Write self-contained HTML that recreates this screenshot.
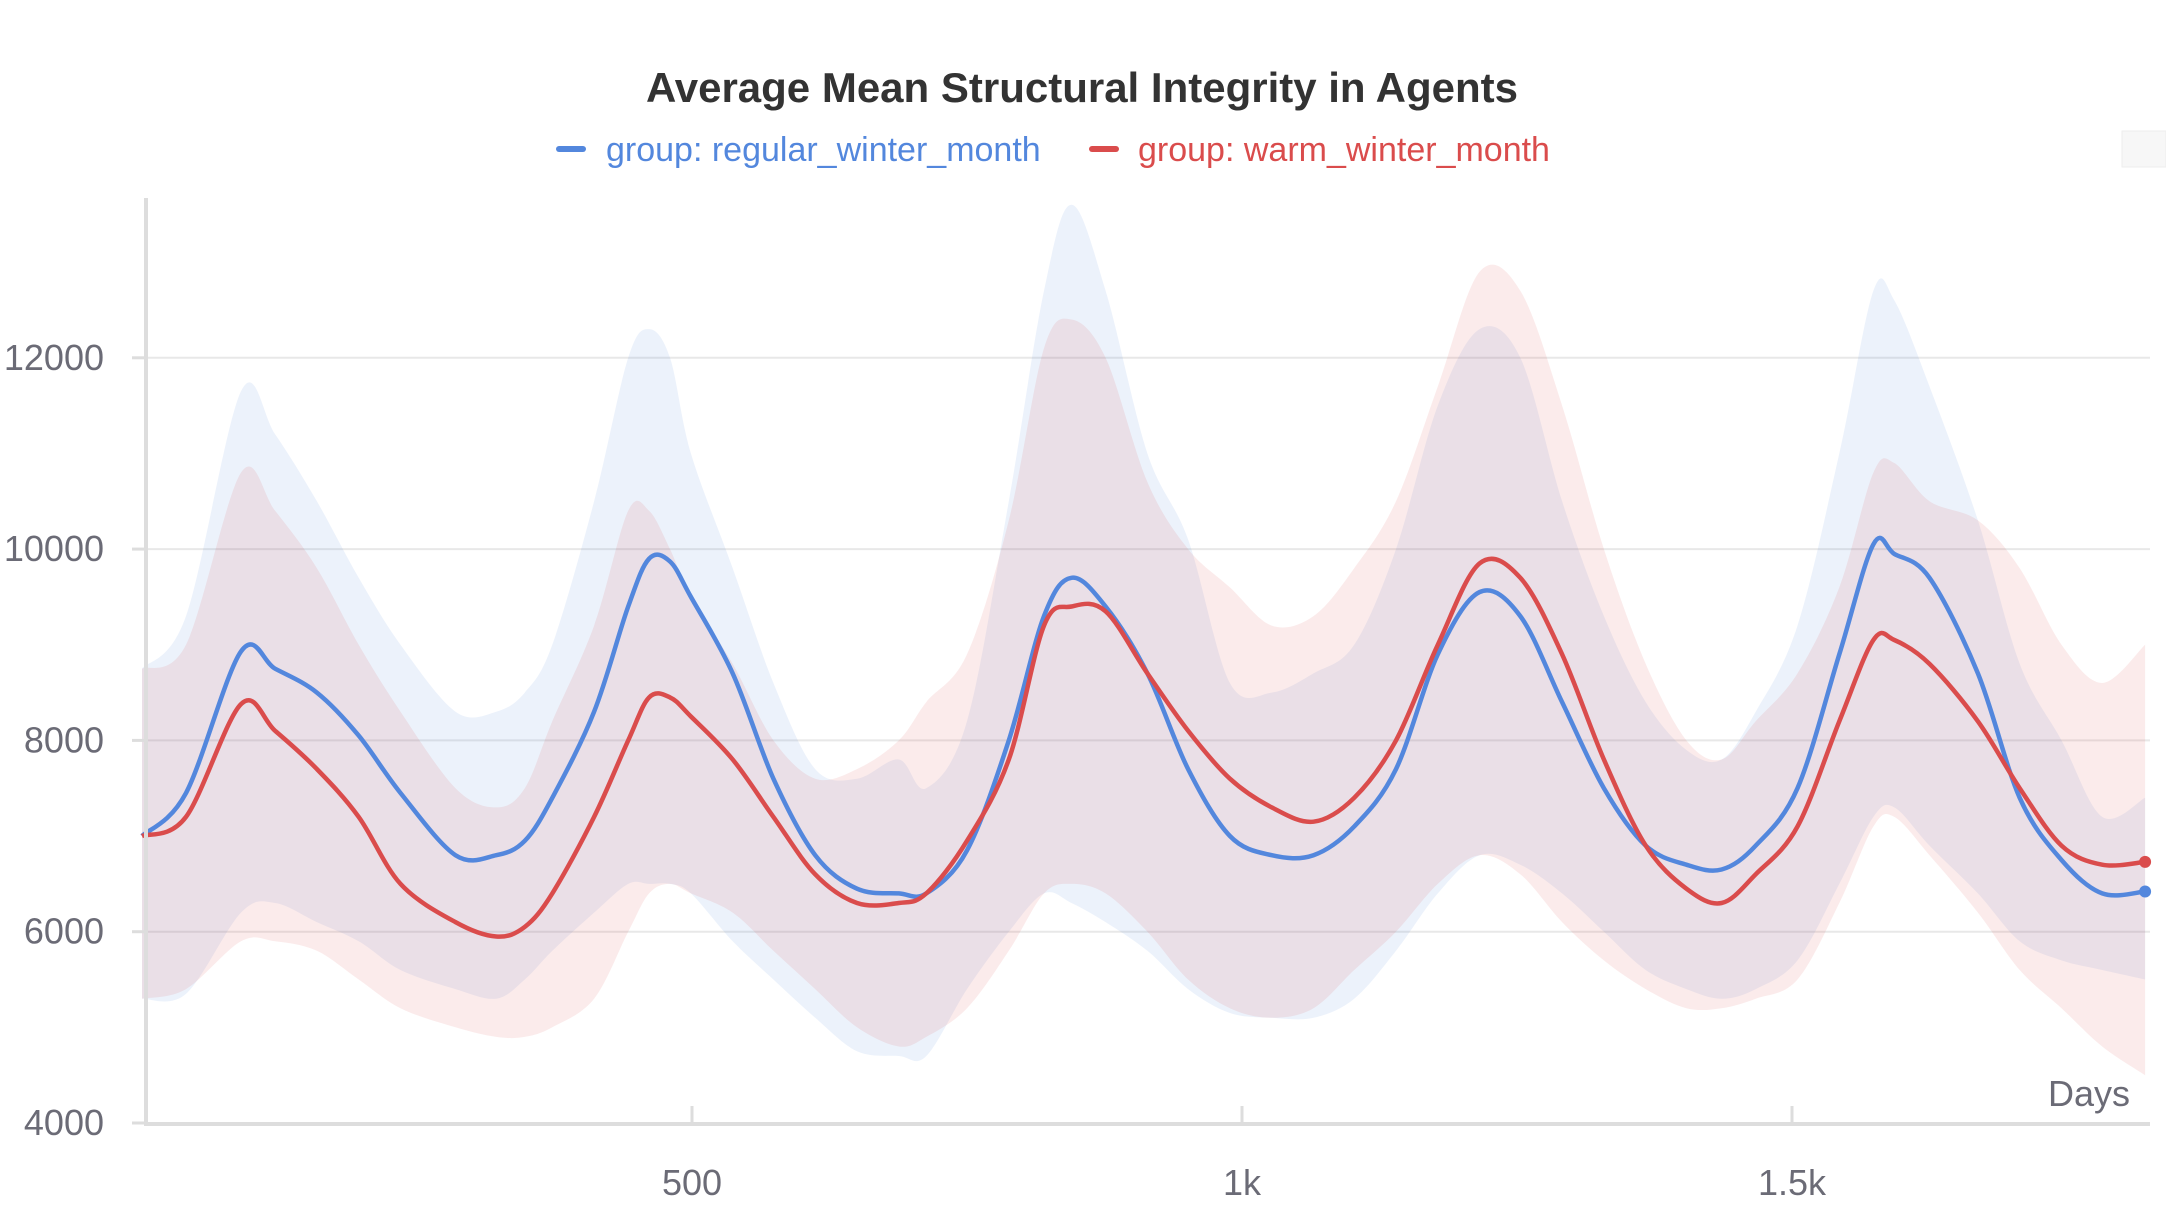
<!DOCTYPE html>
<html><head><meta charset="utf-8"><style>
html,body{margin:0;padding:0;background:#fff;}
svg{display:block;font-family:"Liberation Sans",sans-serif;}
</style></head><body>
<svg id="chart" width="2166" height="1206" viewBox="0 0 2166 1206" xmlns="http://www.w3.org/2000/svg">
<text x="1082" y="102" text-anchor="middle" font-size="42" font-weight="bold" fill="#333">Average Mean Structural Integrity in Agents</text>
<g>
<rect x="556" y="146" width="30" height="6" rx="3" fill="#5387dd"/>
<text x="606" y="161" font-size="34" fill="#5387dd">group: regular_winter_month</text>
<rect x="1089" y="146" width="30" height="6" rx="3" fill="#da4c4c"/>
<text x="1138" y="161" font-size="34" fill="#da4c4c">group: warm_winter_month</text>
</g>
<rect x="2122" y="131" width="44" height="36" fill="#f7f7f7" stroke="#eee"/>
<g id="grid"></g>
<g id="bands"></g>
<g id="lines"></g>
<g id="axes"></g>
<text x="2130" y="1106" text-anchor="end" font-size="36" fill="#6b6b76">Days</text>
</svg>
<script>
const days=[0,40,90,121,159,197,235,285,322,348,373,411,442,461,480,499,537,574,612,650,688,713,750,788,820,845,876,914,951,989,1027,1065,1102,1140,1178,1216,1253,1291,1329,1367,1404,1436,1467,1505,1543,1574,1593,1625,1669,1707,1745,1782,1821];
const blueMean=[7000,7450,8930,8750,8500,8050,7450,6800,6800,6950,7400,8300,9400,9900,9870,9500,8700,7600,6800,6450,6400,6400,6850,8000,9300,9700,9400,8700,7700,7000,6800,6800,7100,7700,8900,9550,9300,8400,7500,6900,6700,6650,6900,7500,8900,10050,9950,9700,8700,7400,6750,6400,6420];
const redMean=[7000,7200,8380,8100,7700,7200,6500,6100,5950,6050,6400,7200,8000,8450,8450,8250,7800,7200,6600,6300,6300,6400,6950,7800,9200,9400,9350,8700,8100,7600,7300,7150,7400,8000,9000,9850,9700,8900,7800,6900,6450,6300,6600,7100,8200,9050,9050,8800,8200,7500,6900,6700,6730];
const blueUpper=[8750,9300,11650,11200,10500,9700,9000,8300,8300,8500,9000,10500,12000,12300,12000,11000,9800,8600,7700,7600,7800,7500,8200,10500,12700,13600,12700,11000,10100,8600,8500,8700,9000,10000,11500,12300,12000,10500,9300,8400,7900,7800,8300,9200,11000,12700,12600,11700,10300,8800,8000,7200,7400];
const blueLower=[5300,5350,6200,6300,6100,5900,5600,5400,5300,5500,5800,6200,6500,6500,6500,6400,5900,5500,5100,4750,4700,4700,5400,6000,6400,6300,6100,5800,5400,5150,5100,5100,5300,5800,6400,6800,6700,6400,6000,5600,5400,5300,5400,5700,6500,7200,7300,6900,6400,5900,5700,5600,5500];
const redUpper=[8750,9000,10800,10400,9800,9000,8300,7500,7300,7500,8200,9200,10400,10400,10000,9500,8800,8000,7600,7700,8000,8400,8900,10300,12100,12400,12000,10700,10000,9600,9200,9300,9800,10500,11700,12900,12700,11500,10000,8800,8000,7800,8200,8700,9600,10800,10900,10500,10300,9800,9000,8600,9000];
const redLower=[5300,5400,5900,5900,5800,5500,5200,5000,4900,4900,5000,5300,6000,6400,6500,6400,6200,5800,5400,5000,4800,4900,5200,5800,6400,6500,6400,6000,5500,5200,5100,5200,5600,6000,6500,6800,6600,6100,5700,5400,5200,5200,5300,5500,6300,7100,7200,6800,6200,5600,5200,4800,4500];
const yTicks=[4000,6000,8000,10000,12000];
const xTicks=[500,1000,1500];
const xTickLabels=["500","1k","1.5k"];

const NS="http://www.w3.org/2000/svg";
const X0=142,XS=1.1,Y4=1123,YS=191.3/2000;
const sx=d=>X0+d*XS, sy=v=>Y4-(v-4000)*YS;
function mk(tag,attrs,parent){const e=document.createElementNS(NS,tag);for(const k in attrs)e.setAttribute(k,attrs[k]);parent.appendChild(e);return e;}
function smooth(pts,start){
 let d=(start?'M':'L')+pts[0][0].toFixed(1)+','+pts[0][1].toFixed(1);
 for(let i=0;i<pts.length-1;i++){
  const p0=pts[Math.max(0,i-1)],p1=pts[i],p2=pts[i+1],p3=pts[Math.min(pts.length-1,i+2)];
  const c1x=p1[0]+(p2[0]-p0[0])/6,c1y=p1[1]+(p2[1]-p0[1])/6;
  const c2x=p2[0]-(p3[0]-p1[0])/6,c2y=p2[1]-(p3[1]-p1[1])/6;
  d+='C'+c1x.toFixed(1)+','+c1y.toFixed(1)+' '+c2x.toFixed(1)+','+c2y.toFixed(1)+' '+p2[0].toFixed(1)+','+p2[1].toFixed(1);
 }
 return d;
}
const grid=document.getElementById('grid'),bands=document.getElementById('bands'),lines=document.getElementById('lines'),axes=document.getElementById('axes');
yTicks.forEach(v=>{
 if(v>4000){const g=mk('line',{x1:146,x2:2150,y1:sy(v),y2:sy(v),stroke:'#e8e8e8','stroke-width':2},grid);
 
 }
 const t=mk('line',{x1:132,x2:146,y1:sy(v),y2:sy(v),stroke:'#ddd','stroke-width':3},axes);
 
 
 const l=mk('text',{x:104,y:sy(v)+12,'text-anchor':'end','font-size':36,fill:'#6b6b76'},axes);
 l.textContent=String(v);
 
 
});
xTicks.forEach((d,i)=>{
 const t=mk('line',{x1:sx(d),x2:sx(d),y1:1106,y2:1123,stroke:'#ddd','stroke-width':3},axes);
 
 
 const l=mk('text',{x:sx(d),y:1195,'text-anchor':'middle','font-size':36,fill:'#6b6b76'},axes);
 l.textContent=xTickLabels[i];
 
 
});
const ya=mk('line',{x1:146,x2:146,y1:198,y2:1125,stroke:'#ddd','stroke-width':4},axes);


const xa=mk('line',{x1:144,x2:2150,y1:1124,y2:1124,stroke:'#ddd','stroke-width':4},axes);


function band(up,lo,fill,name){
 const top=days.map((x,i)=>[sx(x),sy(up[i])]);
 const bot=days.map((x,i)=>[sx(x),sy(lo[i])]).reverse();
 const p=mk('path',{d:smooth(top,true)+smooth(bot,false)+'Z',fill:fill},bands);
 
 
}
band(blueUpper,blueLower,'rgba(83,135,221,0.11)','band-regular');
band(redUpper,redLower,'rgba(218,76,76,0.11)','band-warm');
function line(vals,col,name){
 const pts=days.map((x,i)=>[sx(x),sy(vals[i])]);
 const p=mk('path',{d:smooth(pts,true),fill:'none',stroke:col,'stroke-width':4.5,'stroke-linejoin':'round'},lines);
 
 
 const n=days.length-1;
 const c=mk('circle',{cx:sx(days[n]),cy:sy(vals[n]),r:6,fill:col},lines);
 
 
}
line(blueMean,'#5387dd','line-regular');
line(redMean,'#da4c4c','line-warm');
</script>
</body></html>
